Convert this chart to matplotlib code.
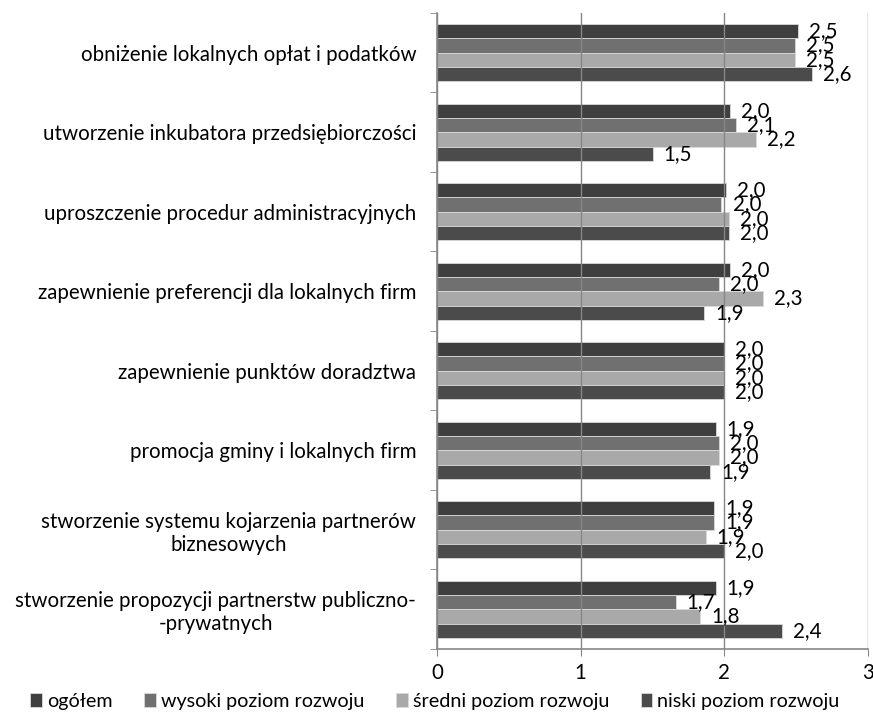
import matplotlib.pyplot as plt
import numpy as np

plt.rcParams['font.family'] = ['Lato', 'DejaVu Sans']

categories = [
    'obniżenie lokalnych opłat i podatków',
    'utworzenie inkubatora przedsiębiorczości',
    'uproszczenie procedur administracyjnych',
    'zapewnienie preferencji dla lokalnych firm',
    'zapewnienie punktów doradztwa',
    'promocja gminy i lokalnych firm',
    'stworzenie systemu kojarzenia partnerów\nbiznesowych',
    'stworzenie propozycji partnerstw publiczno-\n-prywatnych',
]
series_names = ['ogółem', 'wysoki poziom rozwoju', 'średni poziom rozwoju', 'niski poziom rozwoju']
ogolem = [2.51, 2.04, 2.01, 2.04, 2.00, 1.94, 1.93, 1.94]
wysoki = [2.49, 2.08, 1.98, 1.96, 2.00, 1.96, 1.93, 1.66]
sredni = [2.49, 2.22, 2.03, 2.27, 2.00, 1.96, 1.87, 1.83]
niski = [2.61, 1.50, 2.03, 1.86, 2.00, 1.90, 2.00, 2.40]
colors = ['#3f3f3f', '#707070', '#a9a9a9', '#4b4b4b']

fig = plt.figure(figsize=(8.73, 7.13), dpi=100)
ax = fig.add_axes([0.5006, 0.0898, 0.4937, 0.892])

fs = 14.8
n = len(categories)
y = np.arange(n)
h = 0.18
for i, (vals, col, name) in enumerate(zip([ogolem, wysoki, sredni, niski], colors, series_names)):
    pos = y - 1.5 * h + i * h
    ax.barh(pos, vals, height=h, color=col, edgecolor='#d9d9d9', linewidth=0.6, label=name)
    for yy, v in zip(pos, vals):
        ax.annotate(f'{v:.1f}'.replace('.', ','), (v, yy), xytext=(8, 0), textcoords='offset points',
                    ha='left', va='center', fontsize=fs)

ax.set_xlim(0, 3)
ax.set_ylim(n - 0.5, -0.5)
ax.set_xticks([0, 1, 2, 3])
ax.set_xticklabels(['0', '1', '2', '3'], fontsize=fs)
ax.set_yticks(y)
ax.set_yticklabels(categories, fontsize=fs, ha='right', multialignment='center')
ax.set_yticks(np.arange(n + 1) - 0.5, minor=True)
ax.tick_params(axis='y', which='major', length=0, pad=15)
ax.tick_params(axis='y', which='minor', length=5, color='#868686')
ax.tick_params(axis='x', length=5, color='#868686', pad=5)
ax.grid(axis='x', color='#868686', linewidth=1)
ax.set_axisbelow(False)
for sp in ['top', 'right']:
    ax.spines[sp].set_visible(False)
for sp in ['left', 'bottom']:
    ax.spines[sp].set_color('#868686')
    ax.spines[sp].set_linewidth(1.2)

ax.legend(loc='upper center', bbox_to_anchor=(-0.005, -0.05), ncol=4, frameon=False, fontsize=14.2,
          borderpad=0.1, handlelength=0.6, handleheight=0.7, handletextpad=0.25, columnspacing=1.6)

fig.savefig('out.png', dpi=100)
